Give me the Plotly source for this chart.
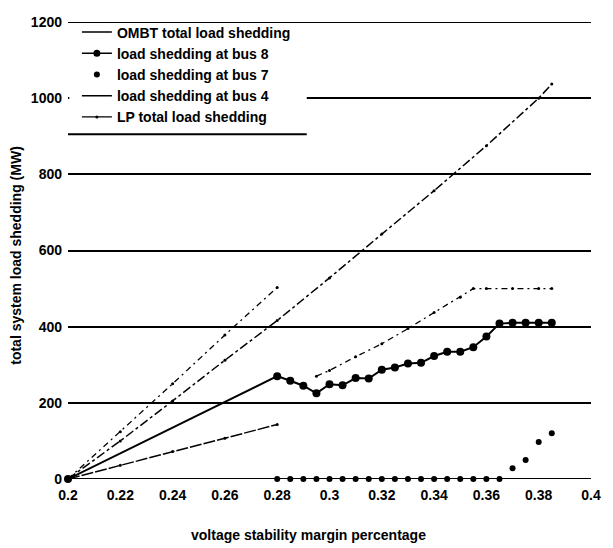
import plotly.graph_objects as go

# ---- data ----
x_bus8 = [0.2, 0.28, 0.285, 0.29, 0.295, 0.3, 0.305, 0.31, 0.315, 0.32, 0.325, 0.33,
          0.335, 0.34, 0.345, 0.35, 0.355, 0.36, 0.365, 0.37, 0.375, 0.38, 0.385]
y_bus8 = [0, 270, 258, 245, 225, 249, 246, 265, 264, 287, 293, 303,
          305, 323, 334, 334, 346, 374, 408, 410, 410, 410, 410]

x_bus7 = [0.2, 0.28, 0.285, 0.29, 0.295, 0.3, 0.305, 0.31, 0.315, 0.32, 0.325, 0.33,
          0.335, 0.34, 0.345, 0.35, 0.355, 0.36, 0.365, 0.37, 0.375, 0.38, 0.385]
y_bus7 = [0, 0, 0, 0, 0, 0, 0, 0, 0, 0, 0, 0,
          0, 0, 0, 0, 0, 0, 0, 28, 50, 97, 120]

x_bus4 = [0.2, 0.22, 0.24, 0.26, 0.28]
y_bus4 = [0, 36, 72, 107, 143]

x_ombt = [0.2, 0.22, 0.24, 0.26, 0.28, None, 0.295, 0.3, 0.31, 0.32, 0.33, 0.34,
          0.35, 0.355, 0.36, 0.37, 0.38, 0.385]
y_ombt = [0, 124, 250, 378, 503, None, 270, 285, 321, 355, 395, 437,
          477, 500, 500, 500, 500, 500]

x_lp = [0.2, 0.22, 0.24, 0.26, 0.28, 0.3, 0.32, 0.34, 0.36, 0.38, 0.385]
y_lp = [0, 100, 205, 312, 416, 528, 643, 757, 875, 1000, 1037]

x_ticks = [0.2, 0.22, 0.24, 0.26, 0.28, 0.3, 0.32, 0.34, 0.36, 0.38, 0.4]
x_tick_labels = ["0.2", "0.22", "0.24", "0.26", "0.28", "0.3", "0.32", "0.34", "0.36", "0.38", "0.4"]
y_ticks = [0, 200, 400, 600, 800, 1000, 1200]
y_tick_labels = ["0", "200", "400", "600", "800", "1000", "1200"]

legend_names = ["OMBT total load shedding", "load shedding at bus 8", "load shedding at bus 7",
                "load shedding at bus 4", "LP total load shedding"]

FONT = "Liberation Sans, Arial, sans-serif"
BLK = "black"

fig = go.Figure()

# plotted data (drawn with the scanned-look styles)
fig.add_trace(go.Scatter(x=x_lp, y=y_lp, mode="lines+markers", showlegend=False,
                         line=dict(color=BLK, width=1.5, dash="dashdot"),
                         marker=dict(size=3, color=BLK), cliponaxis=False))
fig.add_trace(go.Scatter(x=x_ombt, y=y_ombt, mode="lines+markers", showlegend=False,
                         connectgaps=False,
                         line=dict(color=BLK, width=1.3, dash="6px,4px,2px,4px"),
                         marker=dict(size=3, color=BLK), cliponaxis=False))
fig.add_trace(go.Scatter(x=x_bus4, y=y_bus4, mode="lines+markers", showlegend=False,
                         line=dict(color=BLK, width=1.5, dash="12px,2px"),
                         marker=dict(size=3, color=BLK), cliponaxis=False))
fig.add_trace(go.Scatter(x=x_bus8, y=y_bus8, mode="lines+markers", showlegend=False,
                         line=dict(color=BLK, width=2),
                         marker=dict(size=8, color=BLK), cliponaxis=False))
fig.add_trace(go.Scatter(x=x_bus7, y=y_bus7, mode="markers", showlegend=False,
                         marker=dict(size=6, color=BLK), cliponaxis=False))

# legend entries
legend_styles = [
    dict(mode="lines", line=dict(color=BLK, width=1.5)),
    dict(mode="lines+markers", line=dict(color=BLK, width=1.5), marker=dict(size=7, color=BLK)),
    dict(mode="markers", marker=dict(size=6, color=BLK)),
    dict(mode="lines", line=dict(color=BLK, width=1.5)),
    dict(mode="lines+markers", line=dict(color=BLK, width=1.2), marker=dict(size=3, color=BLK)),
]
for name, st in zip(legend_names, legend_styles):
    fig.add_trace(go.Scatter(x=[None], y=[None], name=name, showlegend=True, **st))

fig.update_layout(
    width=613, height=548,
    margin=dict(l=68, r=13, t=22, b=69),
    paper_bgcolor="white", plot_bgcolor="white",
    font=dict(family=FONT, color=BLK),
    showlegend=True,
    legend=dict(x=0.017, y=1.012, xanchor="left", yanchor="top",
                bgcolor="rgba(0,0,0,0)", borderwidth=0,
                font=dict(family=FONT, size=14, color=BLK, weight="bold"),
                tracegroupgap=0, itemwidth=30),
    xaxis=dict(range=[0.2, 0.4], tickvals=x_ticks, ticktext=x_tick_labels,
               showgrid=False, zeroline=False, showline=False,
               ticks="", ticklabelstandoff=6,
               tickfont=dict(family=FONT, size=14, color=BLK, weight="bold")),
    yaxis=dict(range=[0, 1200], tickvals=y_ticks, ticktext=y_tick_labels,
               showgrid=True, gridcolor=BLK, gridwidth=2,
               zeroline=False, showline=False, ticks="", ticklabelstandoff=5,
               tickfont=dict(family=FONT, size=14, color=BLK, weight="bold")),
    shapes=[
        dict(type="line", xref="paper", yref="y", x0=0, x1=1, y0=0, y1=0,
             line=dict(color=BLK, width=2), layer="below"),
        dict(type="line", xref="paper", yref="y", x0=0, x1=1, y0=1200, y1=1200,
             line=dict(color=BLK, width=2), layer="below"),
        dict(type="rect", xref="x", yref="y", x0=0.2005, x1=0.2913, y0=915, y1=1185,
             fillcolor="white", line=dict(width=0), layer="above"),
        dict(type="line", xref="x", yref="y", x0=0.2, x1=0.2913, y0=905, y1=905,
             line=dict(color=BLK, width=2), layer="above"),
    ],
    annotations=[
        dict(text="voltage stability margin percentage", xref="paper", yref="paper",
             x=0.4605, y=-0.123, xanchor="center", yanchor="middle", showarrow=False,
             font=dict(family=FONT, size=14, color=BLK, weight="bold")),
        dict(text="total system load shedding (MW)", xref="paper", yref="paper",
             x=-0.1, y=0.49, xanchor="center", yanchor="middle", textangle=-90,
             showarrow=False, font=dict(family=FONT, size=14, color=BLK, weight="bold")),
    ],
)

fig.write_html("out.html")
